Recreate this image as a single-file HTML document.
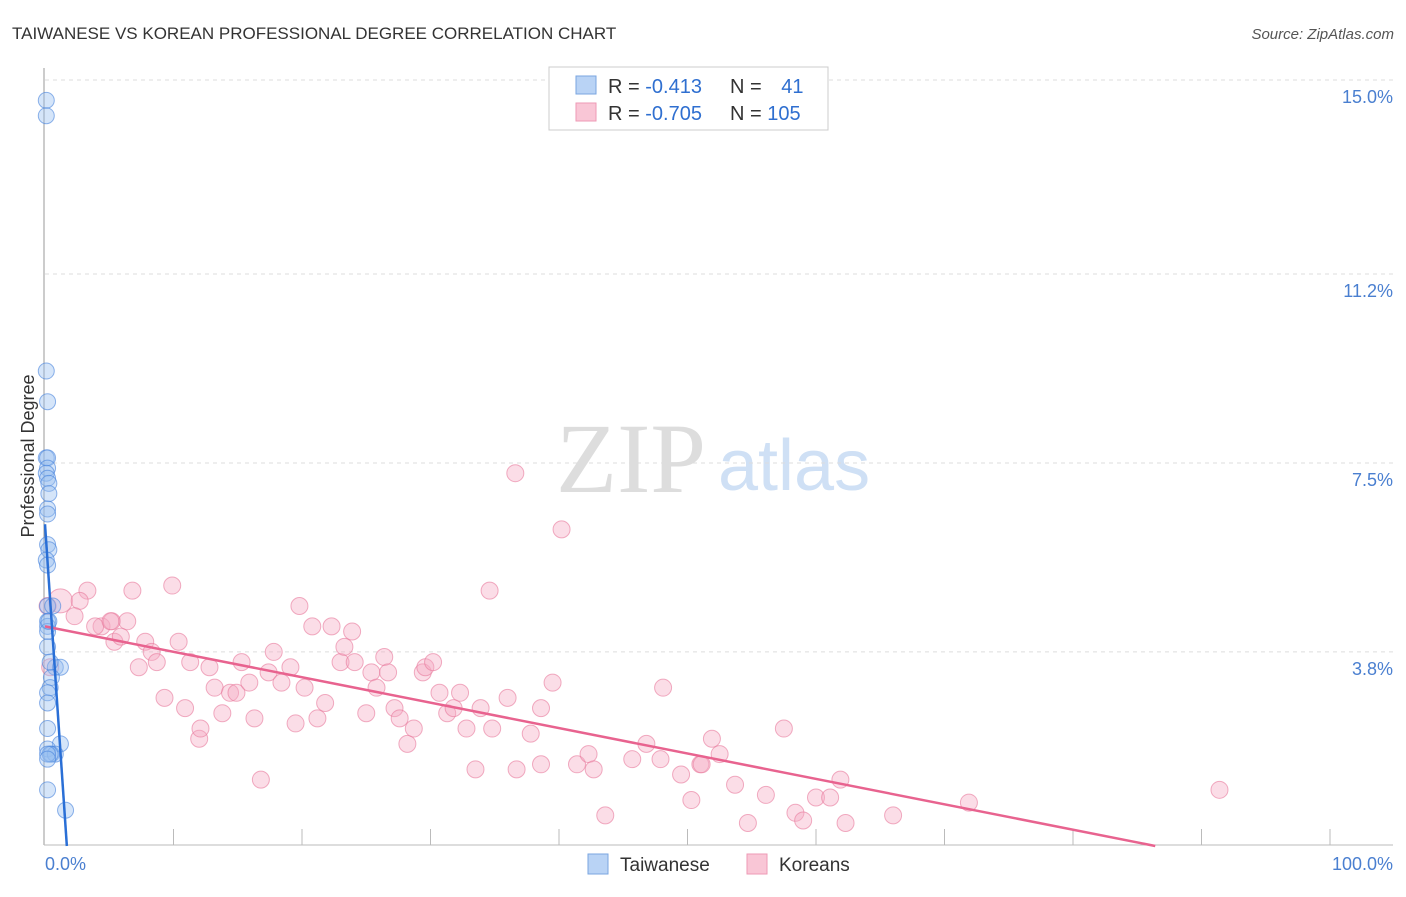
<!DOCTYPE html>
<html><head><meta charset="utf-8"><style>
body{margin:0;background:#fff;font-family:"Liberation Sans",sans-serif}
svg text{font-family:"Liberation Sans",sans-serif}
</style></head><body>
<svg id="chart" width="1406" height="892">
<text x="12" y="39" font-size="17" fill="#333">TAIWANESE VS KOREAN PROFESSIONAL DEGREE CORRELATION CHART</text>
<text x="1394" y="39" font-size="15" fill="#555" font-style="italic" text-anchor="end">Source: ZipAtlas.com</text>
<text x="556" y="492" font-size="100" fill="#ddd" style="font-family:'Liberation Serif',serif">ZIP</text>
<text x="718" y="490" font-size="72" fill="#cfe0f5">atlas</text>
<g id="grid"></g><g id="axes"></g><g id="pts"></g><g id="lines"></g>
<text transform="translate(34,456) rotate(-90)" font-size="18" fill="#333" text-anchor="middle">Professional Degree</text>
<text x="45" y="870" font-size="18" fill="#4a7fd0">0.0%</text>
<text x="1393" y="870" font-size="18" fill="#4a7fd0" text-anchor="end">100.0%</text>
<g>
<rect x="549" y="67" width="279" height="63" fill="#fff" stroke="#ccc"/>
<rect x="576" y="76" width="20" height="18" fill="#b9d3f5" stroke="#7aa6e0"/>
<rect x="576" y="103" width="20" height="18" fill="#f9c6d6" stroke="#ee9ab5"/>
<text x="608" y="93" font-size="20" fill="#333">R = <tspan fill="#2f6fd0">-0.413</tspan></text>
<text x="730" y="93" font-size="20" fill="#333">N = <tspan fill="#2f6fd0" dx="14">41</tspan></text>
<text x="608" y="120" font-size="20" fill="#333">R = <tspan fill="#2f6fd0">-0.705</tspan></text>
<text x="730" y="120" font-size="20" fill="#333">N = <tspan fill="#2f6fd0">105</tspan></text>
</g>
<g>
<rect x="588" y="854" width="20" height="20" fill="#b9d3f5" stroke="#7aa6e0"/>
<text x="620" y="871" font-size="19" fill="#333">Taiwanese</text>
<rect x="747" y="854" width="20" height="20" fill="#f9c6d6" stroke="#ee9ab5"/>
<text x="779" y="871" font-size="19" fill="#333">Koreans</text>
</g>
</svg>
<script>
const yTicks=[15.0,11.2,7.5,3.8];
const yTickLabels=["15.0%","11.2%","7.5%","3.8%"];
const xTicks=[10,20,30,40,50,60,70,80,90,100];
const taiwaneseX=[0.1,0.1,0.1,0.2,0.1,0.2,0.2,0.1,0.2,0.3,0.3,0.2,0.2,0.2,0.3,0.1,0.2,0.2,0.6,0.2,0.2,0.2,0.2,0.8,1.2,0.5,0.4,0.2,0.2,0.2,1.2,0.2,0.5,0.8,0.4,0.2,0.2,0.2,1.6,0.3,0.4];
const taiwaneseY=[14.6,14.3,9.3,8.7,7.6,7.6,7.4,7.3,7.2,7.1,6.9,6.6,6.5,5.9,5.8,5.6,5.5,4.7,4.7,4.4,4.3,4.2,3.9,3.5,3.5,3.3,3.1,3.0,2.8,2.3,2.0,1.9,1.8,1.8,1.8,1.8,1.7,1.1,0.7,4.4,3.6];
const koreansX=[1.2,3.3,2.7,4.4,2.3,3.9,5.4,5.2,6.4,6.8,
5.9,7.8,8.3,8.7,9.9,10.4,11.3,9.3,7.3,12.8,
13.2,10.9,12.0,12.1,13.8,14.4,14.9,15.3,15.9,16.3,
16.8,17.4,17.8,18.4,19.1,19.5,19.8,20.2,20.8,21.2,
21.8,22.3,23.0,23.3,23.9,24.1,25.0,25.4,25.8,26.4,
26.7,27.2,27.6,28.2,28.7,29.4,29.6,30.2,30.7,31.3,
31.8,32.3,32.8,33.5,33.9,34.6,34.8,36.0,36.6,36.7,
37.8,38.6,38.6,39.5,40.2,41.4,42.3,42.7,43.6,45.7,
46.8,47.9,48.1,49.5,50.3,51.0,51.1,51.9,52.5,53.7,
54.7,56.1,57.5,58.4,59.0,60.0,61.1,61.9,62.3,66.0,
71.9,91.4,0.2,0.4,5.1];
const koreansY=[4.8,5.0,4.8,4.3,4.5,4.3,4.0,4.4,4.4,5.0,
4.1,4.0,3.8,3.6,5.1,4.0,3.6,2.9,3.5,3.5,
3.1,2.7,2.1,2.3,2.6,3.0,3.0,3.6,3.2,2.5,
1.3,3.4,3.8,3.2,3.5,2.4,4.7,3.1,4.3,2.5,
2.8,4.3,3.6,3.9,4.2,3.6,2.6,3.4,3.1,3.7,
3.4,2.7,2.5,2.0,2.3,3.4,3.5,3.6,3.0,2.6,
2.7,3.0,2.3,1.5,2.7,5.0,2.3,2.9,7.3,1.5,
2.2,1.6,2.7,3.2,6.2,1.6,1.8,1.5,0.6,1.7,
2.0,1.7,3.1,1.4,0.9,1.6,1.6,2.1,1.8,1.2,
0.45,1.0,2.3,0.65,0.5,0.95,0.95,1.3,0.45,0.6,
0.85,1.1,4.7,3.5,4.4];
const twLine=[[0,6.3],[1.7,0]];
const krLine=[[0,4.3],[86.4,0]];
const X=v=>45+v*12.85, Y=v=>846-v*51.07;
const NS="http://www.w3.org/2000/svg";
function mk(t,a,p){const e=document.createElementNS(NS,t);for(const k in a)e.setAttribute(k,a[k]);document.getElementById(p).appendChild(e);return e;}
yTicks.forEach((t,i)=>{
 const g=mk('line',{x1:45,x2:1393,y1:Y(t),y2:Y(t),stroke:'#ddd','stroke-dasharray':'4,4'},'grid');
 
 
 const l=mk('text',{x:1393,y:Y(t)+23,'font-size':18,fill:'#4a7fd0','text-anchor':'end'},'axes');
 l.textContent=yTickLabels[i];
 
 
});
const ax=mk('line',{x1:44,x2:44,y1:68,y2:845,stroke:'#999'},'axes');


const bx=mk('line',{x1:44,x2:1393,y1:845,y2:845,stroke:'#bbb'},'axes');


xTicks.forEach(t=>{const e=mk('line',{x1:X(t),x2:X(t),y1:829,y2:845,stroke:'#bbb'},'axes');
 
 });
const n=Math.min(koreansX.length,koreansY.length);
for(let i=0;i<n;i++){const c=mk('circle',{cx:X(koreansX[i]),cy:Y(koreansY[i]),r:i==0?12:8.5,fill:'rgba(246,170,195,0.4)',stroke:'rgba(232,120,155,0.6)'},'pts');
 
 }
taiwaneseX.forEach((x,i)=>{const c=mk('circle',{cx:X(x),cy:Y(taiwaneseY[i]),r:8,fill:'rgba(150,190,240,0.4)',stroke:'rgba(70,130,220,0.6)'},'pts');
 
 });
const l1=mk('line',{x1:X(krLine[0][0]),y1:Y(krLine[0][1]),x2:X(krLine[1][0]),y2:Y(krLine[1][1]),stroke:'#e8638f','stroke-width':2.5},'lines');


const l2=mk('line',{x1:X(twLine[0][0]),y1:Y(twLine[0][1]),x2:X(twLine[1][0]),y2:Y(twLine[1][1]),stroke:'#2a6fd6','stroke-width':2.5},'lines');


</script>
</body></html>
